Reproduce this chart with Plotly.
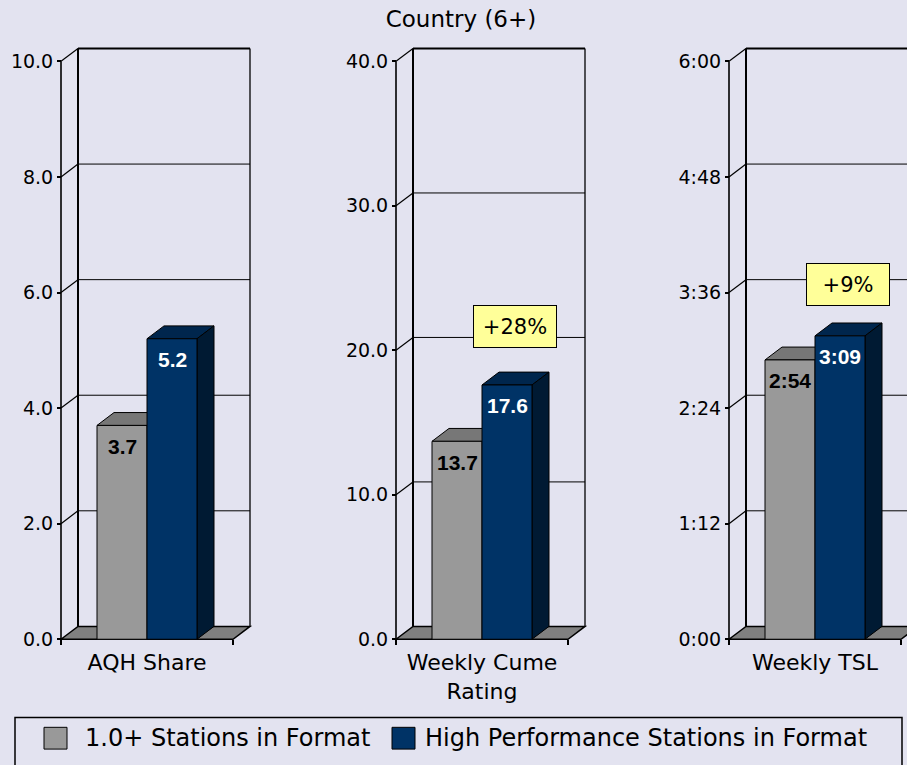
import plotly.graph_objects as go

# ---------------- data ----------------
categories = ["AQH Share", "Weekly Cume<br>Rating", "Weekly TSL"]
series_names = ["1.0+ Stations in Format", "High Performance Stations in Format"]
all_stations = [3.7, 13.7, 174]      # Weekly TSL in minutes (2:54)
high_perf = [5.2, 17.6, 189]         # Weekly TSL in minutes (3:09)
axis_max = [10, 40, 360]
axis_step = [2, 10, 72]
tick_labels = [
    ["0.0", "2.0", "4.0", "6.0", "8.0", "10.0"],
    ["0.0", "10.0", "20.0", "30.0", "40.0"],
    ["0:00", "1:12", "2:24", "3:36", "4:48", "6:00"],
]
change_panels = [1, 2]               # panels that show the % lift box
title_text = "Country (6+)"

# ---------------- style / layout geometry ----------------
FIG_W, FIG_H = 907, 765
BG = "#E3E3F0"
FONT = "DejaVu Sans"
FRONT = ["#999999", "#003366"]
TOPC = ["#777777", "#00264D"]
SIDE = ["#666666", "#001A33"]
FLOOR = "#808080"
FRONT_LEFT = [61, 396, 729]   # px of front y-axis
FRONT_W = 172                 # px width of front plane
ZERO_Y, TOP_Y = 646, 62       # px of 0 and max tick
DX, DY = 17, 13               # 3-D depth in px
PAD = 3
GROUP_PX = 100
BARGAP = 1 - GROUP_PX / FRONT_W
H = ZERO_Y - TOP_Y
change_pos = {1: (515, 329.5), 2: (847.5, 288)}

series_vals = [all_stations, high_perf]

fig = go.Figure()
shapes = []
annotations = []
layout = {}

w = (1 - BARGAP) / 2


def fmt(panel, v):
    if panel == 2:
        m = int(round(v))
        return f"{m // 60}:{m % 60:02d}"
    return f"{v:.1f}"


for p, cat in enumerate(categories):
    sfx = "" if p == 0 else str(p + 1)
    xref, yref = "x" + sfx, "y" + sfx
    ymax = axis_max[p]
    fl = FRONT_LEFT[p]
    left_px = fl - PAD
    right_px = min(fl + FRONT_W + DX + PAD, FIG_W)
    xr = [-0.5 - PAD / FRONT_W, -0.5 + (right_px - fl) / FRONT_W]
    yr = [-PAD * ymax / H, ymax + (DY + PAD) * ymax / H]
    ddx = DX / FRONT_W
    ddy = DY * ymax / H

    layout["xaxis" + sfx] = dict(
        domain=[left_px / FIG_W, right_px / FIG_W], range=xr, type="category",
        categoryorder="array", categoryarray=[cat], tickson="boundaries",
        ticks="outside", ticklen=5, tickwidth=1.5, tickcolor="black",
        showline=False, showgrid=False, zeroline=False,
        anchor="free", position=(FIG_H - ZERO_Y) / FIG_H,
        ticklabelstandoff=8,
        tickfont=dict(family=FONT, size=22, color="black"),
        fixedrange=True,
    )
    tv = [axis_step[p] * k for k in range(len(tick_labels[p]))]
    layout["yaxis" + sfx] = dict(
        domain=[(FIG_H - ZERO_Y - PAD) / FIG_H, (FIG_H - (TOP_Y - DY - PAD)) / FIG_H],
        range=yr, tickvals=tv, ticktext=tick_labels[p],
        ticks="outside", ticklen=4, tickwidth=1.5, tickcolor="black",
        showline=False, showgrid=False, zeroline=False,
        anchor="free", position=fl / FIG_W,
        tickfont=dict(family=FONT, size=19, color="black"),
        fixedrange=True,
    )

    # bars (front faces)
    for s in range(2):
        fig.add_trace(go.Bar(
            x=[cat], y=[series_vals[s][p]], name=series_names[s],
            offsetgroup=str(s), xaxis=xref, yaxis=yref,
            marker=dict(color=FRONT[s], line=dict(color="black", width=1)),
            showlegend=False, hoverinfo="skip",
        ))

    def ln(x0, y0, x1, y1, wd=1):
        return dict(type="line", xref=xref, yref=yref, x0=x0, y0=y0, x1=x1, y1=y1,
                    line=dict(color="black", width=wd), layer="below")

    # floor
    shapes.append(dict(type="path", xref=xref, yref=yref, layer="below",
                       path=f"M -0.5,0 L {-0.5+ddx},{ddy} L {0.5+ddx},{ddy} L 0.5,0 Z",
                       fillcolor=FLOOR, line=dict(color="black", width=1.5)))
    # back wall grid lines and connectors
    for v in tv:
        if v > 0:
            shapes.append(ln(-0.5 + ddx, v + ddy, 0.5 + ddx, v + ddy, 2 if v == ymax else 1))
            shapes.append(ln(-0.5, v, -0.5 + ddx, v + ddy, 1.2))
    shapes.append(ln(-0.5 + ddx, ddy, -0.5 + ddx, ymax + ddy, 2))
    shapes.append(ln(0.5 + ddx, ddy, 0.5 + ddx, ymax + ddy, 1.3))
    shapes.append(ln(-0.5, 0, -0.5, ymax, 1.6))

    # 3-D faces of bars + value labels
    for s in range(2):
        v = series_vals[s][p]
        x0, x1 = (s - 1) * w, s * w
        shapes.append(dict(type="path", xref=xref, yref=yref, layer="below",
                           path=f"M {x0},{v} L {x0+ddx},{v+ddy} L {x1+ddx},{v+ddy} L {x1},{v} Z",
                           fillcolor=TOPC[s], line=dict(color="black", width=1)))
        shapes.append(dict(type="path", xref=xref, yref=yref, layer="below",
                           path=f"M {x1},0 L {x1},{v} L {x1+ddx},{v+ddy} L {x1+ddx},{ddy} Z",
                           fillcolor=SIDE[s], line=dict(color="black", width=1)))
        annotations.append(dict(
            xref=xref, yref=yref, x=(x0 + x1) / 2, y=v, yshift=-21, showarrow=False,
            text=f"<b>{fmt(p, v)}</b>",
            font=dict(family="Liberation Sans", size=21, color="black" if s == 0 else "white"),
        ))

    if p in change_panels:
        pct = round((high_perf[p] / all_stations[p] - 1) * 100)
        cx, cy = change_pos[p]
        annotations.append(dict(
            xref="paper", yref="paper", x=cx / FIG_W, y=(FIG_H - cy) / FIG_H,
            xanchor="center", yanchor="middle", showarrow=False,
            text=f"+{pct}%", width=78, height=37, borderpad=2,
            bgcolor="#FFFF99", bordercolor="black", borderwidth=1,
            font=dict(family=FONT, size=21, color="black"),
        ))

# ---------------- manual legend ----------------
shapes.append(dict(type="rect", xref="paper", yref="paper",
                   x0=15 / FIG_W, x1=902 / FIG_W, y0=-30 / FIG_H, y1=(FIG_H - 725) / FIG_H,
                   line=dict(color="black", width=1.5), fillcolor="rgba(0,0,0,0)"))
leg_sq = [44, 392]
leg_tx = [83, 423]
for s in range(2):
    shapes.append(dict(type="rect", xref="paper", yref="paper",
                       x0=leg_sq[s] / FIG_W, x1=(leg_sq[s] + 23) / FIG_W,
                       y0=(FIG_H - 757) / FIG_H, y1=(FIG_H - 735) / FIG_H,
                       fillcolor=FRONT[s], line=dict(color="black", width=1)))
    annotations.append(dict(xref="paper", yref="paper", x=leg_tx[s] / FIG_W,
                            y=(FIG_H - 746) / FIG_H, xanchor="left", yanchor="middle",
                            showarrow=False, text=series_names[s],
                            font=dict(family=FONT, size=24, color="black")))

fig.update_layout(
    width=FIG_W, height=FIG_H, margin=dict(l=0, r=0, t=0, b=0),
    paper_bgcolor=BG, plot_bgcolor=BG,
    barmode="group", bargap=BARGAP, bargroupgap=0,
    showlegend=False,
    title=dict(text=title_text, x=461 / FIG_W, xanchor="center",
               y=1 - 19 / FIG_H, yanchor="middle",
               font=dict(family=FONT, size=23, color="black")),
    shapes=shapes, annotations=annotations,
    **layout,
)

fig.write_html("out.html")
